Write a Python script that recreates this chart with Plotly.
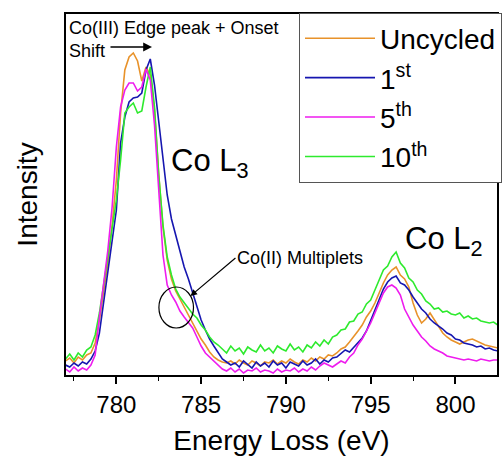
import numpy as np
import plotly.graph_objects as go

# Energy-loss channels (eV), 0.25 eV sampling
energy = np.round(np.arange(777.0, 802.51, 0.25), 2).tolist()

# Intensities (arb. units), 8 values per 2 eV row
uncycled = [
    14, 17, 12, 18, 15, 20, 22, 32,          # 777.00-778.75
    55, 82, 112, 150, 195, 262, 305, 318,    # 779.00-780.75
    322, 314, 294, 308, 300, 265, 200, 148,  # 781.00-782.75
    115, 96, 84, 76, 68, 60, 52, 44,         # 783.00-784.75
    36, 30, 23, 18, 15, 13, 12, 14,          # 785.00-786.75
    11, 15, 12, 10, 14, 12, 9, 13,           # 787.00-788.75
    12, 15, 11, 14, 12, 16, 13, 11,          # 789.00-790.75
    15, 13, 17, 14, 18, 16, 20, 19,          # 791.00-792.75
    22, 26, 28, 33, 38, 44, 50, 58,          # 793.00-794.75
    64, 72, 82, 92, 100, 105, 108, 100,      # 795.00-796.75
    96, 88, 72, 60, 52, 56, 62, 55,          # 797.00-798.75
    48, 42, 38, 35, 33, 31, 33, 35,          # 799.00-800.75
    36, 34, 32, 30, 29, 28, 27,              # 801.00-802.50
]
first = [
    10, 8, 12, 9, 13, 11, 16, 24,
    42, 72, 102, 135, 165, 232, 258, 273,
    277, 278, 282, 305, 316, 290, 253, 220,
    180, 156, 140, 122, 108, 96, 82, 68,
    55, 45, 36, 29, 22, 16, 13, 10,
    12, 8, 14, 10, 7, 13, 9, 12,
    8, 14, 10, 12, 7, 13, 11, 9,
    14, 10, 12, 16, 11, 15, 13, 17,
    18, 22, 25, 23, 28, 33, 37, 44,
    55, 65, 76, 86, 93, 97, 99, 92,
    90, 85, 78, 72, 66, 62, 56, 52,
    49, 46, 42, 40, 36, 35, 32, 31,
    30, 28, 29, 26, 27, 25, 24,
]
fifth = [
    6, 3, 8, 4, 7, 5, 10, 20,
    58, 90, 125, 168, 228, 268, 285, 292,
    292, 284, 288, 306, 295, 250, 180, 120,
    90, 80, 73, 64, 58, 52, 47, 38,
    29, 22, 18, 14, 9, 6, 4, 7,
    3, 6, 2, 5, 4, 7, 3, 5,
    4, 2, 6, 3, 5, 4, 7, 3,
    6, 4, 8, 5, 9, 12, 10, 8,
    11, 14, 12, 18, 22, 30, 36, 44,
    52, 62, 72, 82, 88, 90, 87, 80,
    66, 58, 50, 44, 38, 34, 29, 26,
    24, 22, 19, 18, 17, 16, 15, 16,
    15, 14, 16, 15, 14, 15, 15,
]
tenth = [
    16, 21, 15, 22, 18, 25, 28, 40,
    62, 90, 118, 145, 175, 215, 262, 268,
    272, 262, 264, 288, 308, 268, 200, 150,
    118, 100, 86, 78, 72, 66, 61, 57,
    50, 45, 38, 33, 30, 26, 22, 29,
    24, 27, 21, 28, 25, 23, 30, 24,
    27, 22, 29, 26, 24, 31, 25, 28,
    23, 30, 27, 33, 29, 35, 31, 38,
    40, 45, 46, 53, 54, 61, 63, 71,
    75, 85, 95, 105, 109, 118, 123, 112,
    107, 97, 93, 85, 81, 74, 71, 66,
    67, 63, 64, 61, 60, 62, 57, 59,
    56, 57, 54, 53, 52, 53, 50,
]

series_names = ["Uncycled", "1<sup>st</sup>", "5<sup>th</sup>", "10<sup>th</sup>"]
series_values = [uncycled, first, fifth, tenth]
series_colors = ["#E8922A", "#1616B0", "#EE1CEE", "#2EEA2E"]
legend_ranks = [1, 2, 3, 4]
draw_order = [0, 1, 3, 2]

x_ticks = [780, 785, 790, 795, 800]

FONT = "Arial, Liberation Sans, sans-serif"

fig = go.Figure()
for i in draw_order:
    fig.add_trace(go.Scatter(
        x=energy, y=series_values[i], mode="lines", name=series_names[i],
        line=dict(color=series_colors[i], width=1.6),
        legendrank=legend_ranks[i],
    ))

fig.update_layout(
    width=502, height=456,
    margin=dict(l=66, r=0, t=14, b=81),
    paper_bgcolor="white", plot_bgcolor="white",
    font=dict(family=FONT, color="black"),
    showlegend=True,
    legend=dict(
        x=0.541, y=1.004, xanchor="left", yanchor="top",
        bgcolor="white", bordercolor="#555555", borderwidth=1,
        font=dict(size=28, family=FONT, color="black"),
        itemwidth=70, traceorder="normal",
    ),
    xaxis=dict(
        range=[777.03, 802.45], tickvals=x_ticks,
        ticks="outside", ticklen=7, tickwidth=1.5, tickcolor="black",
        minor=dict(dtick=2.5, ticks="outside", ticklen=4, tickwidth=1.2, tickcolor="black"),
        showline=True, linecolor="black", linewidth=2, mirror=True,
        showgrid=False, zeroline=False,
        tickfont=dict(size=24, family=FONT),
        title=dict(text="Energy Loss (eV)", font=dict(size=28, family=FONT), standoff=14),
    ),
    yaxis=dict(
        range=[0, 361], showticklabels=False, ticks="",
        showline=True, linecolor="black", linewidth=2, mirror=True,
        showgrid=False, zeroline=False,
        title=dict(text="Intensity", font=dict(size=28, family=FONT), standoff=18),
    ),
)

# Text annotations
fig.add_annotation(
    xref="paper", yref="paper", x=0.003, y=0.995, xanchor="left", yanchor="top",
    text="Co(III) Edge peak + Onset<br>Shift", align="left", showarrow=False,
    font=dict(size=18, family=FONT, color="black"),
)
fig.add_annotation(
    xref="paper", yref="paper", x=0.1995, y=0.9086, text="",
    showarrow=True, axref="pixel", ayref="pixel", ax=-43, ay=0,
    arrowhead=2, arrowsize=1.1, arrowwidth=1.6, arrowcolor="black",
)
fig.add_annotation(
    xref="paper", yref="paper", x=0.2385, y=0.587, xanchor="left", yanchor="middle",
    text="Co L<sub>3</sub>", showarrow=False,
    font=dict(size=31, family=FONT, color="black"),
)
fig.add_annotation(
    xref="paper", yref="paper", x=0.782, y=0.371, xanchor="left", yanchor="middle",
    text="Co L<sub>2</sub>", showarrow=False,
    font=dict(size=31, family=FONT, color="black"),
)
fig.add_annotation(
    xref="x", yref="y", x=784.37, y=79, text="Co(II) Multiplets",
    xanchor="left", yanchor="middle", showarrow=True, ax=45, ay=-38,
    arrowhead=2, arrowsize=1.1, arrowwidth=1.2, arrowcolor="black",
    font=dict(size=18, family=FONT, color="black"),
)
fig.add_shape(
    type="circle", xref="x", yref="y", x0=782.51, x1=784.55, y0=47, y1=88,
    line=dict(color="black", width=1.2),
)

fig.write_html("out.html", config={"displayModeBar": False})
